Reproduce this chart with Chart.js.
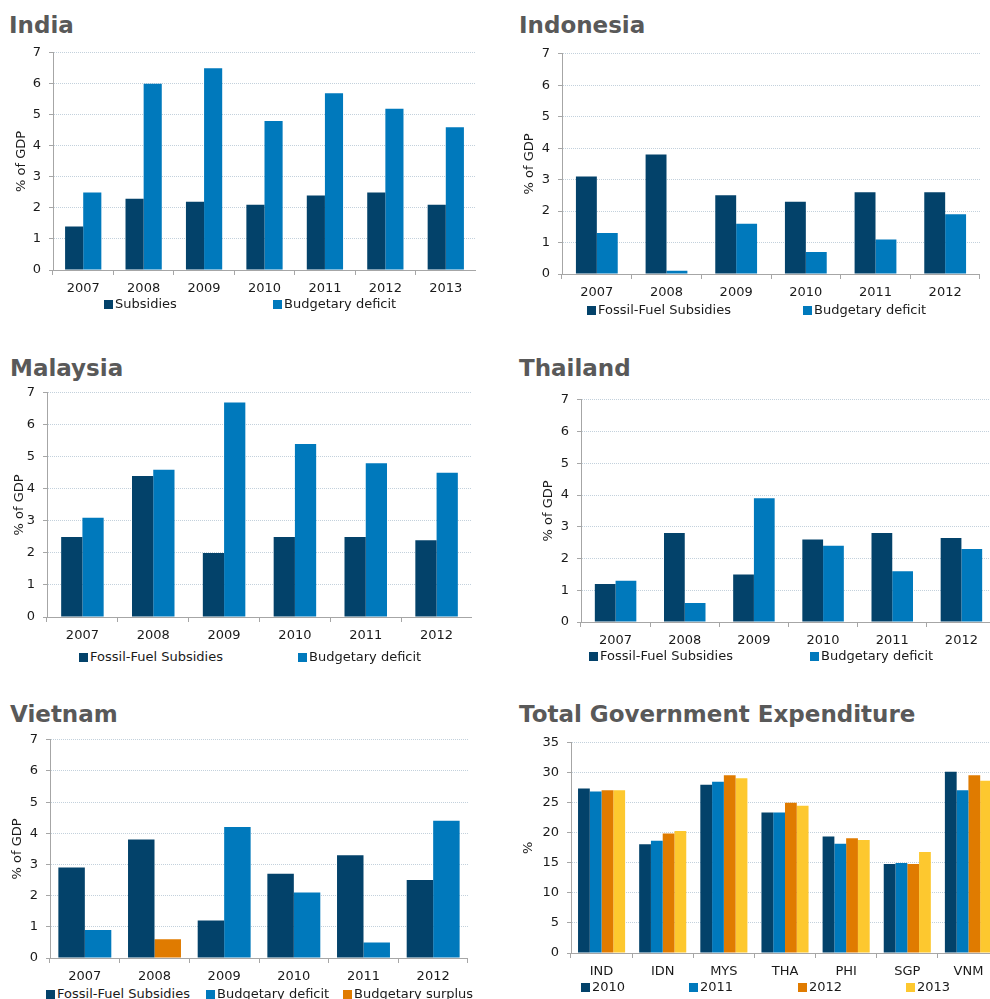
<!DOCTYPE html>
<html>
<head>
<meta charset="utf-8">
<title>Fossil-fuel subsidies and budgets</title>
<script src="https://cdn.jsdelivr.net/npm/chart.js@4.4.0/dist/chart.umd.min.js"></script>
<style>
html, body { margin: 0; padding: 0; width: 990px; height: 999px; overflow: hidden; background: #fff; }
body { position: relative; font-family: "DejaVu Sans", Verdana, sans-serif; }
.title { position: absolute; font-weight: bold; font-size: 23px; line-height: 23px; color: #595959; white-space: nowrap; }
canvas { position: absolute; }
.leg { position: absolute; font-size: 13px; line-height: 13px; height: 13px; color: #1a1a1a; white-space: nowrap; }
.leg i { display: inline-block; width: 9px; height: 9px; margin-right: 2px; vertical-align: -1px; }
</style>
</head>
<body>
<div class="title" style="left:9px;top:14px">India</div>
<div class="title" style="left:519px;top:14px">Indonesia</div>
<div class="title" style="left:10px;top:357px">Malaysia</div>
<div class="title" style="left:519px;top:357px">Thailand</div>
<div class="title" style="left:10px;top:703px">Vietnam</div>
<div class="title" style="left:519px;top:703px">Total Government Expenditure</div>

<canvas id="india"></canvas>
<canvas id="indonesia"></canvas>
<canvas id="malaysia"></canvas>
<canvas id="thailand"></canvas>
<canvas id="vietnam"></canvas>
<canvas id="tge"></canvas>

<script>
// data
const years7 = ["2007", "2008", "2009", "2010", "2011", "2012", "2013"];
const years6 = ["2007", "2008", "2009", "2010", "2011", "2012"];

const indiaSubsidies = [1.4, 2.3, 2.2, 2.1, 2.4, 2.5, 2.1];
const indiaDeficit = [2.5, 6.0, 6.5, 4.8, 5.7, 5.2, 4.6];

const indonesiaSubsidies = [3.1, 3.8, 2.5, 2.3, 2.6, 2.6];
const indonesiaDeficit = [1.3, 0.1, 1.6, 0.7, 1.1, 1.9];

const malaysiaSubsidies = [2.5, 4.4, 2.0, 2.5, 2.5, 2.4];
const malaysiaDeficit = [3.1, 4.6, 6.7, 5.4, 4.8, 4.5];

const thailandSubsidies = [1.2, 2.8, 1.5, 2.6, 2.8, 2.65];
const thailandDeficit = [1.3, 0.6, 3.9, 2.4, 1.6, 2.3];

const vietnamSubsidies = [2.9, 3.8, 1.2, 2.7, 3.3, 2.5];
const vietnamDeficit = [0.9, null, 4.2, 2.1, 0.5, 4.4];
const vietnamSurplus = [null, 0.6, null, null, null, null];

const countries = ["IND", "IDN", "MYS", "THA", "PHI", "SGP", "VNM"];
const tgeYears = ["2010", "2011", "2012", "2013"];
const exp2010 = [27.4, 18.1, 28.0, 23.4, 19.4, 14.8, 30.2];
const exp2011 = [26.9, 18.7, 28.5, 23.4, 18.2, 15.0, 27.1];
const exp2012 = [27.1, 19.9, 29.6, 25.0, 19.1, 14.8, 29.6];
const exp2013 = [27.1, 20.3, 29.1, 24.5, 18.8, 16.8, 28.7];

const DARK = "#03426a";
const BLUE = "#0079bc";
const ORANGE = "#e07b00";
const YELLOW = "#fdc82f";
const AXIS = "#a6a6a6";
const GRID = "#c3d1dc";

Chart.defaults.font.family = "'DejaVu Sans', Verdana, sans-serif";
Chart.defaults.font.size = 13;
Chart.defaults.color = "#1a1a1a";

// box: canvas left, plot top/right/bottom in page px, axisW = y axis box width
function barChart(id, box, labels, datasets, yMax, yStep, yTitle, catPct, stacked) {
    const canvas = document.getElementById(id);
    const top = box.top - 15;
    canvas.width = box.right - box.left;
    canvas.height = box.bottom - top + 28;
    canvas.style.left = box.left + "px";
    canvas.style.top = top + "px";

    new Chart(canvas, {
        type: "bar",
        data: {
            labels: labels,
            datasets: datasets.map(d => ({
                label: d.label,
                data: d.data,
                backgroundColor: d.color,
                borderWidth: 0,
                stack: d.stack,
                categoryPercentage: catPct,
                barPercentage: 1.0
            }))
        },
        options: {
            responsive: false,
            animation: false,
            devicePixelRatio: 1,
            layout: { padding: { top: 10, right: 0, bottom: 0, left: 0 } },
            plugins: { legend: { display: false }, tooltip: { enabled: false } },
            scales: {
                x: {
                    stacked: stacked,
                    grid: { display: true, drawOnChartArea: false, drawTicks: true, tickLength: 5, tickColor: AXIS, offset: true },
                    border: { color: AXIS, width: 1 },
                    ticks: { padding: 6, maxRotation: 0, autoSkip: false },
                    afterFit: s => { s.height = 28; }
                },
                y: {
                    stacked: stacked,
                    min: 0,
                    max: yMax,
                    ticks: { stepSize: yStep, padding: 8 },
                    grid: { color: GRID, lineWidth: 1, tickColor: AXIS, tickLength: 4, tickBorderDash: [] },
                    border: { color: AXIS, width: 1, dash: [1, 1] },
                    title: { display: true, text: yTitle, font: { size: 13 }, padding: { top: 4, bottom: 0 } },
                    afterFit: s => { s.width = box.axisW; }
                }
            }
        }
    });
}

function legend(y, items) {
    items.forEach(item => {
        const el = document.createElement("div");
        el.className = "leg";
        el.style.left = item.x + "px";
        el.style.top = (y - 6) + "px";
        el.innerHTML = '<i style="background:' + item.color + '"></i>' + item.label;
        document.body.appendChild(el);
    });
}

barChart("india", { left: 10, top: 52, right: 476, bottom: 270, axisW: 43 }, years7, [
    { label: "Subsidies", data: indiaSubsidies, color: DARK },
    { label: "Budgetary deficit", data: indiaDeficit, color: BLUE }
], 7, 1, "% of GDP", 0.6, false);
legend(303, [{ x: 104, label: "Subsidies", color: DARK }, { x: 273, label: "Budgetary deficit", color: BLUE }]);

barChart("indonesia", { left: 518, top: 53, right: 980, bottom: 274, axisW: 44 }, years6, [
    { label: "Fossil-Fuel Subsidies", data: indonesiaSubsidies, color: DARK },
    { label: "Budgetary deficit", data: indonesiaDeficit, color: BLUE }
], 7, 1, "% of GDP", 0.6, false);
legend(309, [{ x: 587, label: "Fossil-Fuel Subsidies", color: DARK }, { x: 803, label: "Budgetary deficit", color: BLUE }]);

barChart("malaysia", { left: 8, top: 392, right: 472, bottom: 617, axisW: 39 }, years6, [
    { label: "Fossil-Fuel Subsidies", data: malaysiaSubsidies, color: DARK },
    { label: "Budgetary deficit", data: malaysiaDeficit, color: BLUE }
], 7, 1, "% of GDP", 0.6, false);
legend(656, [{ x: 79, label: "Fossil-Fuel Subsidies", color: DARK }, { x: 298, label: "Budgetary deficit", color: BLUE }]);

barChart("thailand", { left: 537, top: 399, right: 996, bottom: 622, axisW: 44 }, years6, [
    { label: "Fossil-Fuel Subsidies", data: thailandSubsidies, color: DARK },
    { label: "Budgetary deficit", data: thailandDeficit, color: BLUE }
], 7, 1, "% of GDP", 0.6, false);
legend(655, [{ x: 589, label: "Fossil-Fuel Subsidies", color: DARK }, { x: 810, label: "Budgetary deficit", color: BLUE }]);

barChart("vietnam", { left: 6, top: 739, right: 468, bottom: 958, axisW: 44 }, years6, [
    { label: "Fossil-Fuel Subsidies", data: vietnamSubsidies, color: DARK, stack: "s" },
    { label: "Budgetary deficit", data: vietnamDeficit, color: BLUE, stack: "b" },
    { label: "Budgetary surplus", data: vietnamSurplus, color: ORANGE, stack: "b" }
], 7, 1, "% of GDP", 0.76, true);
legend(993, [
    { x: 46, label: "Fossil-Fuel Subsidies", color: DARK },
    { x: 206, label: "Budgetary deficit", color: BLUE },
    { x: 343, label: "Budgetary surplus", color: ORANGE }
]);

barChart("tge", { left: 517, top: 742, right: 999, bottom: 953, axisW: 54 }, countries, [
    { label: tgeYears[0], data: exp2010, color: DARK },
    { label: tgeYears[1], data: exp2011, color: BLUE },
    { label: tgeYears[2], data: exp2012, color: ORANGE },
    { label: tgeYears[3], data: exp2013, color: YELLOW }
], 35, 5, "%", 0.77, false);
legend(986, [
    { x: 581, label: tgeYears[0], color: DARK },
    { x: 689, label: tgeYears[1], color: BLUE },
    { x: 798, label: tgeYears[2], color: ORANGE },
    { x: 906, label: tgeYears[3], color: YELLOW }
]);
</script>
</body>
</html>
